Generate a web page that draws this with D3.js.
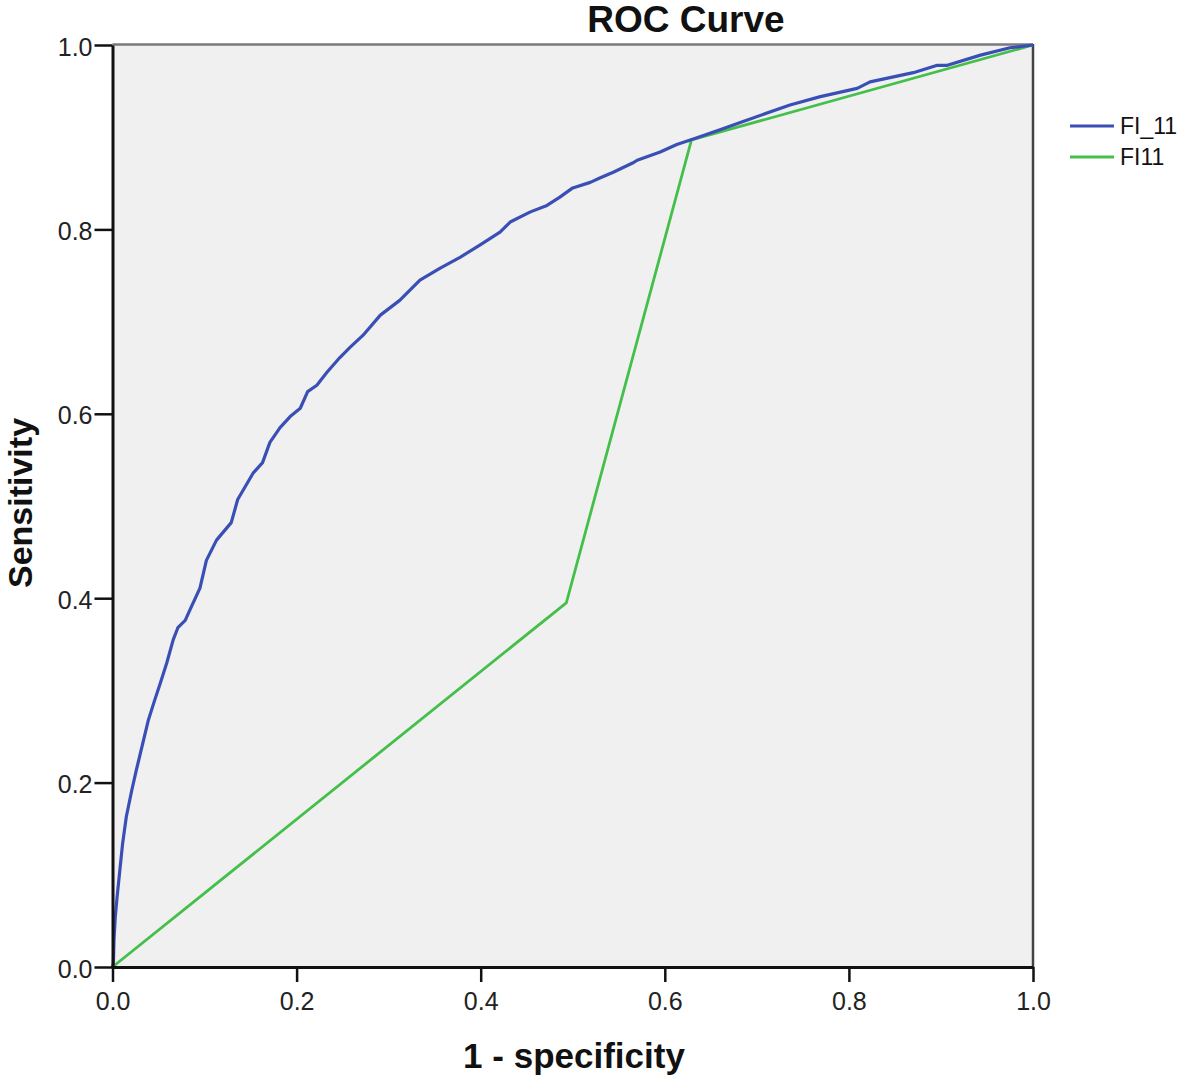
<!DOCTYPE html>
<html>
<head>
<meta charset="utf-8">
<script src="https://cdn.jsdelivr.net/npm/d3@7"></script>
<style>
  html, body { margin: 0; padding: 0; background: #ffffff; }
  svg { display: block; font-family: "Liberation Sans", Arial, sans-serif; }
</style>
</head>
<body>
<svg id="chart" width="1179" height="1078"></svg>
<script>
// ---- Data ----
const chartTitle = "ROC Curve";
const xLabel = "1 - specificity";
const yLabel = "Sensitivity";
const seriesNames = ["FI_11", "FI11"];
const seriesColors = ["#3a4fb5", "#44bf4a"];
const tickValues = [0, 0.2, 0.4, 0.6, 0.8, 1.0];

// FI_11 (continuous score ROC) : [1 - specificity, sensitivity]
const fi_11 = [
  [0,0],[0.001,0.004],[0.0016,0.029],[0.003,0.054],[0.005,0.076],[0.008,0.105],
  [0.011,0.134],[0.015,0.163],[0.021,0.192],[0.026,0.214],[0.033,0.243],[0.039,0.268],
  [0.046,0.290],[0.052,0.308],[0.059,0.330],[0.066,0.355],[0.071,0.368],[0.079,0.376],
  [0.084,0.387],[0.095,0.411],[0.102,0.441],[0.113,0.463],[0.129,0.482],[0.136,0.507],
  [0.153,0.536],[0.163,0.547],[0.171,0.569],[0.182,0.585],[0.193,0.597],[0.204,0.606],
  [0.212,0.624],[0.222,0.631],[0.233,0.645],[0.247,0.661],[0.258,0.672],[0.272,0.685],
  [0.291,0.707],[0.312,0.723],[0.334,0.745],[0.356,0.758],[0.378,0.770],[0.399,0.783],
  [0.421,0.797],[0.432,0.808],[0.454,0.819],[0.472,0.826],[0.486,0.835],[0.500,0.845],
  [0.519,0.851],[0.530,0.856],[0.544,0.862],[0.565,0.872],[0.570,0.875],[0.595,0.884],
  [0.613,0.892],[0.631,0.898],[0.660,0.908],[0.682,0.916],[0.736,0.935],[0.769,0.944],
  [0.809,0.953],[0.823,0.960],[0.870,0.970],[0.896,0.978],[0.907,0.978],[0.943,0.989],
  [0.975,0.997],[1,1]
];
// FI11 (categorical ROC)
const fi11 = [[0,0],[0.493,0.395],[0.629,0.897],[1,1]];

// ---- Layout ----
const svg = d3.select("#chart");
const plotL = 112.5, plotR = 1033, plotT = 45, plotB = 967;

const x = d3.scaleLinear().domain([0, 1]).range([plotL, plotR]);
const y = d3.scaleLinear().domain([0, 1]).range([plotB, plotT]);

// plot background
svg.append("rect")
  .attr("x", plotL).attr("y", plotT)
  .attr("width", plotR - plotL).attr("height", plotB - plotT)
  .attr("fill", "#f0f0f0");

// frame: top and right
svg.append("line").attr("x1", plotL).attr("x2", plotR).attr("y1", plotT - 0.5).attr("y2", plotT - 0.5)
  .attr("stroke", "#7a7a7a").attr("stroke-width", 2.5);
svg.append("line").attr("x1", plotR).attr("x2", plotR).attr("y1", plotT - 1).attr("y2", plotB)
  .attr("stroke", "#444").attr("stroke-width", 2.5);

// lines
const line = d3.line().x(d => x(d[0])).y(d => y(d[1]));
svg.append("path").datum(fi11).attr("d", line)
  .attr("fill", "none").attr("stroke", seriesColors[1]).attr("stroke-width", 2.8)
  .attr("stroke-linejoin", "round");
svg.append("path").datum(fi_11).attr("d", line)
  .attr("fill", "none").attr("stroke", seriesColors[0]).attr("stroke-width", 3.2)
  .attr("stroke-linejoin", "round");

// axes
const fmt = d3.format(".1f");
const xAxis = svg.append("g").attr("transform", `translate(0,${plotB})`)
  .call(d3.axisBottom(x).tickValues(tickValues).tickFormat(fmt).tickSize(15).tickSizeOuter(0));
const yAxis = svg.append("g").attr("transform", `translate(${plotL},0)`)
  .call(d3.axisLeft(y).tickValues(tickValues).tickFormat(fmt).tickSize(18).tickSizeOuter(0));

[xAxis, yAxis].forEach(g => {
  g.select(".domain").attr("stroke", "#111").attr("stroke-width", 3);
  g.selectAll(".tick line").attr("stroke", "#111").attr("stroke-width", 2.5);
  g.selectAll(".tick text").attr("fill", "#222")
    .style("font-family", "'Liberation Sans', Arial, sans-serif").style("font-size", "25px");
});
xAxis.selectAll(".tick text").attr("dy", "0").attr("y", 43);
yAxis.selectAll(".tick text").attr("x", -20).attr("dy", "0.4em");

// title
svg.append("text").attr("x", 686).attr("y", 32).attr("text-anchor", "middle")
  .style("font-size", "37px").style("font-weight", "bold").attr("fill", "#111")
  .text(chartTitle);

// axis titles
svg.append("text").attr("x", 574).attr("y", 1068).attr("text-anchor", "middle")
  .style("font-size", "35px").style("font-weight", "bold").attr("fill", "#111")
  .text(xLabel);
svg.append("text").attr("transform", "translate(32,503) rotate(-90)").attr("text-anchor", "middle")
  .style("font-size", "34px").style("font-weight", "bold").attr("fill", "#111")
  .text(yLabel);

// legend
const legend = svg.append("g");
seriesNames.forEach((name, i) => {
  const ly = 126 + i * 31;
  legend.append("line").attr("x1", 1070).attr("x2", 1114).attr("y1", ly).attr("y2", ly)
    .attr("stroke", seriesColors[i]).attr("stroke-width", 2.8);
  legend.append("text").attr("x", 1120).attr("y", ly).attr("dy", "0.36em")
    .style("font-size", "23px").attr("fill", "#111").text(name);
});
</script>
</body>
</html>
